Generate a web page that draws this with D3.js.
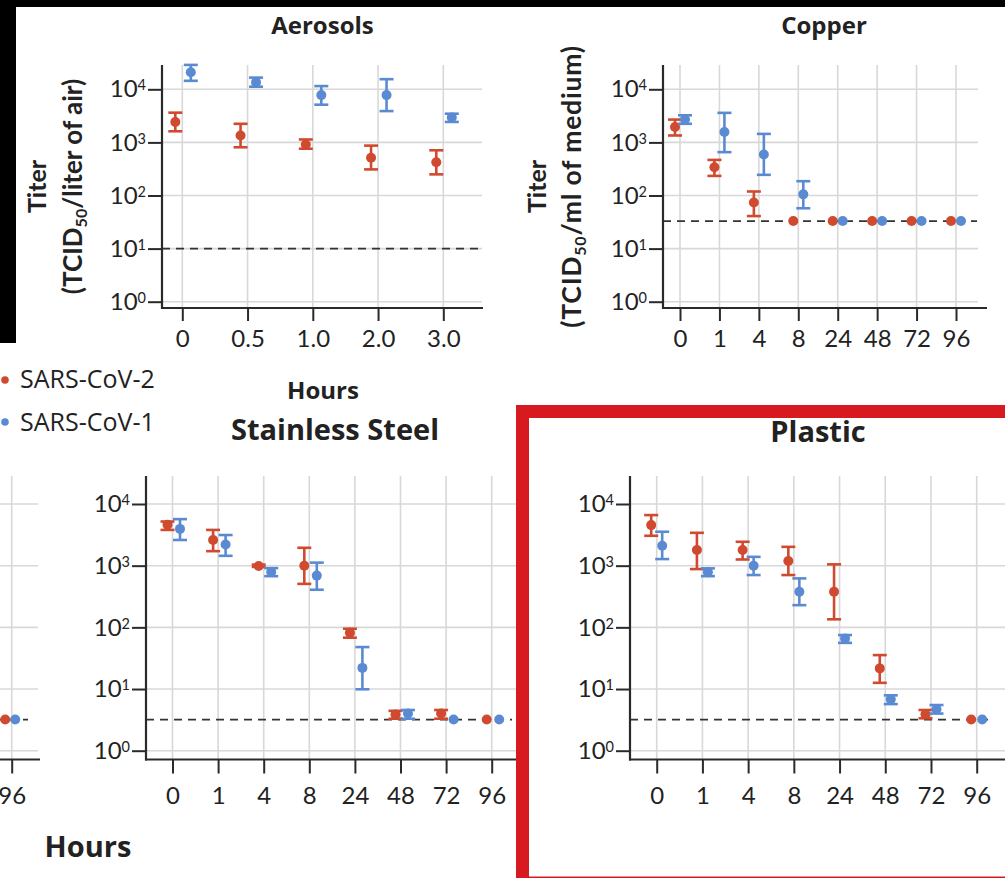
<!DOCTYPE html>
<html><head><meta charset="utf-8">
<script src="https://cdn.jsdelivr.net/npm/d3@7"></script>
<style>
body{margin:0;background:#fff}
svg{display:block}
text{font-family:Lato,"Open Sans",sans-serif;fill:#222}
</style>
</head><body>
<svg id="c" width="1005" height="878"></svg>
<script>
// ---------------- data ----------------
const seriesNames = ["SARS-CoV-2", "SARS-CoV-1"];
const yTickValues = [1, 10, 100, 1000, 10000];

const aerosolHours = ["0", "0.5", "1.0", "2.0", "3.0"];
const surfaceHours = ["0", "1", "4", "8", "24", "48", "72", "96"];

// Aerosols (TCID50 / liter of air)
const aerosolCov2   = [2430, 1350, 910, 515, 423];
const aerosolCov2Lo = [1620, 810, 760, 310, 250];
const aerosolCov2Hi = [3630, 2240, 1135, 870, 710];
const aerosolCov1   = [21000, 13500, 7770, 7770, 2950];
const aerosolCov1Lo = [14450, 11200, 5130, 3890, 2430];
const aerosolCov1Hi = [28800, 16600, 11500, 15500, 3470];
const aerosolLimit = 10;

// Copper (TCID50 / ml of medium)
const copperCov2   = [1950, 340, 74, 33, 33, 33, 33, 33];
const copperCov2Lo = [1350, 234, 41, null, null, null, null, null];
const copperCov2Hi = [2690, 468, 119, null, null, null, null, null];
const copperCov1   = [2700, 1570, 590, 105, 33, 33, 33, 33];
const copperCov1Lo = [2240, 655, 245, 57.5, null, null, null, null];
const copperCov1Hi = [3240, 3600, 1445, 186, null, null, null, null];
const copperLimit = 33;

// Cardboard (only the 96-h point is visible in this crop)
const cardboardCov2 = [null, null, null, null, null, null, null, 3.2];
const cardboardCov1 = [null, null, null, null, null, null, null, 3.2];
const cardboardLimit = 3.2;

// Stainless steel
const steelCov2   = [4600, 2600, 990, 1000, 82, 3.85, 4.0, 3.2];
const steelCov2Lo = [3800, 1720, 955, 507, 68, 3.3, 3.3, null];
const steelCov2Hi = [5200, 3800, 1040, 1950, 95, 4.43, 4.57, null];
const steelCov1   = [3950, 2200, 790, 690, 22, 4.0, 3.2, 3.2];
const steelCov1Lo = [2610, 1445, 676, 407, 9.9, 3.3, null, null];
const steelCov1Hi = [5680, 3140, 912, 1120, 47.9, 4.57, null, null];
const steelLimit = 3.2;

// Plastic
const plasticCov2   = [4550, 1790, 1790, 1190, 377, 21.6, 3.9, 3.2];
const plasticCov2Lo = [3055, 881, 1260, 705, 135, 12.6, 3.35, null];
const plasticCov2Hi = [6610, 3410, 2440, 2020, 1050, 35.5, 4.57, null];
const plasticCov1   = [2100, 780, 1000, 378, 66, 6.8, 4.7, 3.2];
const plasticCov1Lo = [1280, 676, 705, 229, 56, 5.7, 4.0, null];
const plasticCov1Hi = [3550, 904, 1390, 622, 75, 7.9, 5.5, null];
const plasticLimit = 3.2;

// ---------------- styles ----------------
const RED = "#cf4a2f", BLUE = "#5a8bd2";
const GRID = "#d8d8d8", AXIS = "#2a2a2a";

const svg = d3.select("#c");

function pack(v, lo, hi) {
  return v.map((d, i) => ({v: d, lo: lo ? lo[i] : null, hi: hi ? hi[i] : null}));
}

const rows = {
  top:    {top: 65,  axisY: 308,   y0: 301.7, y4: 89.3, tick: 13, pad: 9},
  bottom: {top: 476, axisY: 759.5, y0: 750.7, y4: 504,  tick: 14, pad: 13}
};

function drawPanel(cfg) {
  const r = rows[cfg.row];
  const g = svg.append("g");
  const x = d3.scalePoint().domain(cfg.cats).range([cfg.x0, cfg.x1]);
  const y = d3.scaleLog().domain([1, 1e4]).range([r.y0, r.y4]);
  const gx0 = Math.max(cfg.axisX, -5);

  // grid
  g.append("g").selectAll("line").data(yTickValues).join("line")
    .attr("x1", gx0).attr("x2", cfg.gridEnd)
    .attr("y1", d => y(d)).attr("y2", d => y(d))
    .attr("stroke", GRID).attr("stroke-width", 1.6);
  g.append("g").selectAll("line").data(cfg.cats.filter(c => x(c) > -5)).join("line")
    .attr("x1", d => x(d)).attr("x2", d => x(d))
    .attr("y1", r.top).attr("y2", r.axisY)
    .attr("stroke", GRID).attr("stroke-width", 1.6);

  // detection limit
  g.append("line")
    .attr("x1", gx0).attr("x2", cfg.dashEnd)
    .attr("y1", y(cfg.limit)).attr("y2", y(cfg.limit))
    .attr("stroke", "#333").attr("stroke-width", 1.8)
    .attr("stroke-dasharray", "8,6");

  // y axis (only when it lies inside the picture)
  if (cfg.axisX > 0) {
    const ya = g.append("g").attr("transform", `translate(${cfg.axisX},0)`)
      .call(d3.axisLeft(y).tickValues(yTickValues).tickFormat(() => "10")
        .tickSize(14).tickPadding(2));
    ya.select(".domain").remove();
    ya.selectAll(".tick line").attr("stroke", AXIS).attr("stroke-width", 2);
    ya.selectAll(".tick text")
      .attr("font-size", 24).attr("fill", "#222")
      .style("font-family", "Lato, sans-serif")
      .each(function(d) {
        d3.select(this).append("tspan").attr("dy", -7).attr("font-size", 14.5)
          .text(Math.round(Math.log10(d)));
      });
    g.append("line").attr("x1", cfg.axisX).attr("x2", cfg.axisX)
      .attr("y1", r.top).attr("y2", r.axisY + 1)
      .attr("stroke", AXIS).attr("stroke-width", 2.2);
  }

  // x axis
  const xa = g.append("g").attr("transform", `translate(0,${r.axisY})`)
    .call(d3.axisBottom(x).tickSize(r.tick).tickPadding(r.pad));
  xa.select(".domain").remove();
  xa.selectAll(".tick").filter(d => x(d) < -5).remove();
  xa.selectAll(".tick line").attr("stroke", AXIS).attr("stroke-width", 2);
  xa.selectAll(".tick text").attr("font-size", 24).attr("fill", "#222")
    .style("font-family", "Lato, sans-serif");
  g.append("line").attr("x1", gx0 - 1).attr("x2", cfg.xEnd)
    .attr("y1", r.axisY).attr("y2", r.axisY)
    .attr("stroke", AXIS).attr("stroke-width", 2.2);

  // series
  cfg.series.forEach(s => {
    const data = s.data.map((d, i) => ({...d, c: cfg.cats[i]})).filter(d => d.v != null);
    const sg = g.append("g").attr("stroke", s.color).attr("fill", s.color);
    const eb = data.filter(d => d.lo != null && d.hi != null);
    sg.selectAll(".bar").data(eb).join("line")
      .attr("x1", d => x(d.c) + s.off).attr("x2", d => x(d.c) + s.off)
      .attr("y1", d => y(d.lo)).attr("y2", d => y(d.hi)).attr("stroke-width", 2.6);
    ["lo", "hi"].forEach(k => {
      sg.selectAll(".cap" + k).data(eb).join("line")
        .attr("x1", d => x(d.c) + s.off - 7).attr("x2", d => x(d.c) + s.off + 7)
        .attr("y1", d => y(d[k])).attr("y2", d => y(d[k])).attr("stroke-width", 2.6);
    });
    sg.selectAll("circle").data(data).join("circle")
      .attr("cx", d => x(d.c) + s.off).attr("cy", d => y(d.v))
      .attr("r", 5).attr("stroke", "none");
  });
}

// Aerosols
drawPanel({row: "top", cats: aerosolHours, axisX: 162, x0: 182.3, x1: 443.3,
  xEnd: 483, gridEnd: 482, dashEnd: 478, limit: aerosolLimit,
  series: [
    {color: RED, off: -7, data: pack(aerosolCov2, aerosolCov2Lo, aerosolCov2Hi)},
    {color: BLUE, off: 8.5, data: pack(aerosolCov1, aerosolCov1Lo, aerosolCov1Hi)}
  ]});
// Copper
drawPanel({row: "top", cats: surfaceHours, axisX: 663, x0: 680, x1: 956,
  xEnd: 987, gridEnd: 978, dashEnd: 977, limit: copperLimit,
  series: [
    {color: RED, off: -5, data: pack(copperCov2, copperCov2Lo, copperCov2Hi)},
    {color: BLUE, off: 5, data: pack(copperCov1, copperCov1Lo, copperCov1Hi)}
  ]});
// Cardboard (partial, cut off at left)
drawPanel({row: "bottom", cats: surfaceHours, axisX: -340, x0: 11.7 - 7 * 45.7, x1: 11.7,
  xEnd: 40, gridEnd: 38, dashEnd: 28, limit: cardboardLimit,
  series: [
    {color: RED, off: -6.5, data: pack(cardboardCov2)},
    {color: BLUE, off: 3.5, data: pack(cardboardCov1)}
  ]});
// Stainless steel
drawPanel({row: "bottom", cats: surfaceHours, axisX: 146, x0: 172.5, x1: 491.7,
  xEnd: 520, gridEnd: 520, dashEnd: 512, limit: steelLimit,
  series: [
    {color: RED, off: -5, data: pack(steelCov2, steelCov2Lo, steelCov2Hi)},
    {color: BLUE, off: 7.5, data: pack(steelCov1, steelCov1Lo, steelCov1Hi)}
  ]});
// Plastic
drawPanel({row: "bottom", cats: surfaceHours, axisX: 630, x0: 656.7, x1: 976.7,
  xEnd: 1010, gridEnd: 1010, dashEnd: 993, limit: plasticLimit,
  series: [
    {color: RED, off: -5.5, data: pack(plasticCov2, plasticCov2Lo, plasticCov2Hi)},
    {color: BLUE, off: 5.5, data: pack(plasticCov1, plasticCov1Lo, plasticCov1Hi)}
  ]});

// ---------------- titles & labels ----------------
function title(x, y, txt, size) {
  svg.append("text").attr("x", x).attr("y", y).attr("text-anchor", "middle")
    .attr("font-size", size).attr("font-weight", 700)
    .style("font-family", "'Open Sans', sans-serif").text(txt);
}
title(322.5, 34, "Aerosols", 24);
title(824, 34, "Copper", 24);
title(323, 399, "Hours", 24);
title(335, 440, "Stainless Steel", 29);
title(818, 441.5, "Plastic", 29);
title(88, 856.5, "Hours", 29);

function yTitle(cx1, cx2, cy, unit, size, spacing) {
  svg.append("text").attr("transform", `translate(${cx1 + 9},${cy}) rotate(-90)`)
    .attr("text-anchor", "middle").attr("font-size", 25).attr("font-weight", 700)
    .text("Titer");
  const t = svg.append("text").attr("transform", `translate(${cx2 + 9},${cy}) rotate(-90)`)
    .attr("text-anchor", "middle").attr("font-size", size).attr("font-weight", 700)
    .attr("letter-spacing", spacing);
  t.append("tspan").text("(TCID");
  t.append("tspan").attr("font-size", 16).attr("dy", 5).text("50");
  t.append("tspan").attr("dy", -5).text(unit);
}
yTitle(37, 73, 186.5, "/liter of air)", 26, 0);
yTitle(537, 572, 186.5, "/ml of medium)", 26.5, 0.8);

// legend
const legend = svg.append("g");
seriesNames.forEach((n, i) => {
  legend.append("circle").attr("cx", 5).attr("cy", 380 + i * 42).attr("r", 3.8)
    .attr("fill", i === 0 ? RED : BLUE);
  legend.append("text").attr("x", 20).attr("y", 388 + i * 43).attr("font-size", 25)
    .style("font-family", "'Open Sans', sans-serif")
    .attr("fill", "#333").text(n);
});

// ---------------- frame overlays ----------------
svg.append("rect").attr("x", 522.5).attr("y", 411.5).attr("width", 520).attr("height", 471.5)
  .attr("fill", "none").attr("stroke", "#d71920").attr("stroke-width", 13);
svg.append("rect").attr("x", 0).attr("y", 0).attr("width", 1005).attr("height", 7).attr("fill", "#000");
svg.append("rect").attr("x", 0).attr("y", 0).attr("width", 16).attr("height", 343).attr("fill", "#000");
</script>
</body></html>
